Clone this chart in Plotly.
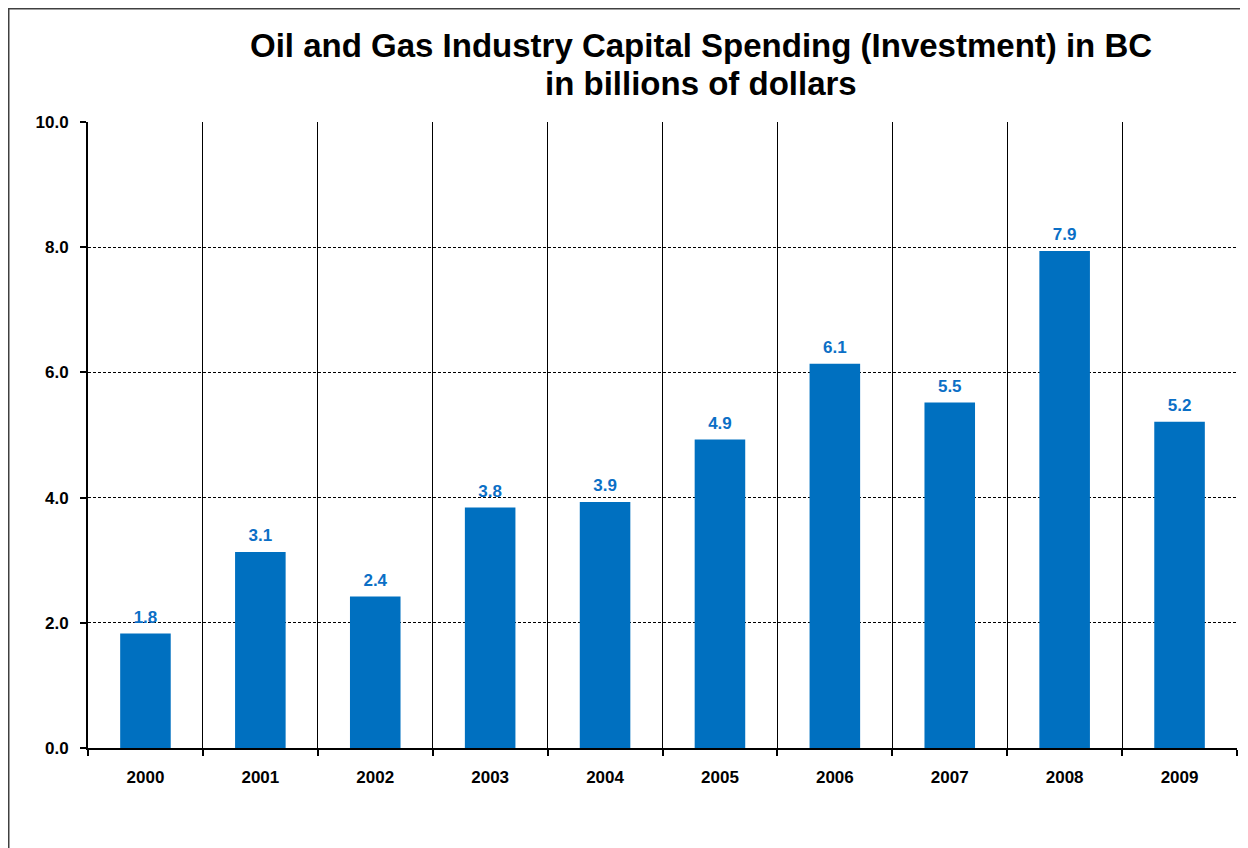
import plotly.graph_objects as go

years = ["2000", "2001", "2002", "2003", "2004", "2005", "2006", "2007", "2008", "2009"]
spending = [1.83, 3.13, 2.42, 3.84, 3.93, 4.93, 6.14, 5.52, 7.94, 5.21]
y_ticks = [0, 2, 4, 6, 8, 10]
y_tick_labels = ["0.0", "2.0", "4.0", "6.0", "8.0", "10.0"]
title_line1 = "Oil and Gas Industry Capital Spending (Investment) in BC"
title_line2 = "in billions of dollars"

blue = "#0070C0"
label_blue = "#0B6FC6"
font_family = "Liberation Sans, Arial, sans-serif"

# plot area geometry (figure pixels)
L, T, R, B = 80, 114, 1229, 740
W, H = 1248, 848
pw, ph = R - L, B - T

fig = go.Figure()
fig.add_trace(go.Bar(
    x=years, y=spending,
    marker=dict(color=blue, line=dict(width=0)),
    width=0.44,
    hoverinfo="x+y",
))
fig.add_trace(go.Scatter(
    x=years, y=spending,
    mode="markers+text",
    text=[f"{v:.1f}" for v in spending],
    textposition="top center",
    marker=dict(size=9, color="rgba(0,0,0,0)"),
    cliponaxis=False,
    textfont=dict(family=font_family, size=17, color=label_blue, weight="bold"),
    hoverinfo="skip",
))

fig.update_layout(
    width=W, height=H,
    margin=dict(l=L, r=W - R, t=T, b=H - B, pad=0),
    paper_bgcolor="white", plot_bgcolor="white",
    showlegend=False,
    xaxis=dict(
        type="category", tickson="boundaries",
        range=[-0.5, len(years) - 0.5],
        showgrid=True, gridcolor="black", gridwidth=1,
        showline=True, linecolor="black", linewidth=2,
        ticks="outside", ticklen=6, tickcolor="black", tickwidth=1.5,
        tickfont=dict(family=font_family, size=17, color="black", weight="bold"),
        ticklabelstandoff=13,
    ),
    yaxis=dict(
        range=[0, 10], tickvals=y_ticks, ticktext=y_tick_labels,
        showgrid=True, gridcolor="black", gridwidth=1, griddash="3px,2px",
        showline=True, linecolor="black", linewidth=2,
        ticks="outside", ticklen=6, tickcolor="black", tickwidth=1.5,
        tickfont=dict(family=font_family, size=17, color="black", weight="bold"),
        ticklabelstandoff=8,
        zeroline=False,
    ),
    bargap=0.56,
    annotations=[
        dict(text=f"<b>{title_line1}</b>", xref="paper", yref="paper",
             x=(693.5 - L) / pw, y=(B - 38) / ph, xanchor="center", yanchor="middle",
             showarrow=False, font=dict(family=font_family, size=33, color="black")),
        dict(text=f"<b>{title_line2}</b>", xref="paper", yref="paper",
             x=(693 - L) / pw, y=(B - 75) / ph, xanchor="center", yanchor="middle",
             showarrow=False, font=dict(family=font_family, size=33, color="black")),
    ],
)

fig.add_shape(type="rect", xref="paper", yref="paper",
              x0=(0.75 - L) / pw, x1=(W + 20 - L) / pw,
              y0=(B - H - 20) / ph, y1=(B - 0.75) / ph,
              line=dict(color="#404040", width=1.5), layer="above")

fig.write_html("out.html")
